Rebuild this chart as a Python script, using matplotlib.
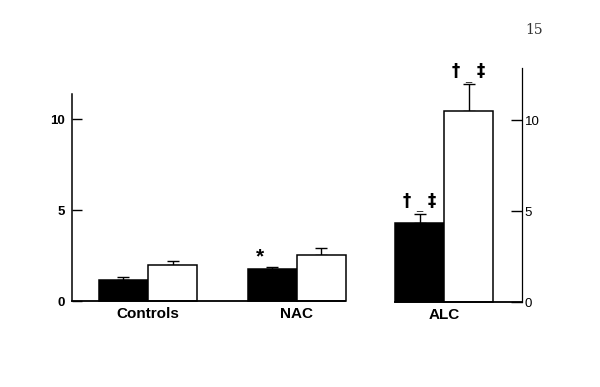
import matplotlib
matplotlib.use("Agg")
import matplotlib.pyplot as plt
import numpy as np

plt.rcParams['font.family'] = ['Liberation Sans', 'DejaVu Sans']

# Data
groups_left = ["Controls", "NAC"]
black_left = [1.16, 1.77]
black_left_err = [0.18, 0.13]
white_left = [1.97, 2.54]
white_left_err = [0.26, 0.40]

group_right = ["ALC"]
black_right = [4.37]
black_right_err = [0.48]
white_right = [10.49]
white_right_err = [1.49]

yticks = [0, 5, 10]

fig = plt.figure(figsize=(6.0, 3.87), dpi=100)
W, H = 600.0, 387.0

def fax(x0, x1, ytop, ybot):
    return fig.add_axes([x0 / W, (H - ybot) / H, (x1 - x0) / W, (ybot - ytop) / H])

bw = 0.33
lw = 1.1

def draw_bars(ax, xs, b, be, w, we):
    xs = np.asarray(xs, dtype=float)
    ax.bar(xs - bw / 2, b, bw, color='black', edgecolor='black', linewidth=lw, zorder=2, clip_on=False)
    ax.bar(xs + bw / 2, w, bw, color='white', edgecolor='black', linewidth=lw, zorder=2, clip_on=False)
    ax.errorbar(xs - bw / 2, b, yerr=[np.zeros(len(b)), be], fmt='none', ecolor='black',
                elinewidth=1.0, capsize=4, capthick=1.0, zorder=1)
    ax.errorbar(xs + bw / 2, w, yerr=[np.zeros(len(w)), we], fmt='none', ecolor='black',
                elinewidth=1.0, capsize=4, capthick=1.0, zorder=1)

# Left panel
axL = fax(72, 345, 94, 301)
xl = np.arange(len(groups_left))
draw_bars(axL, xl, black_left, black_left_err, white_left, white_left_err)
axL.set_xlim(-0.511, 1.325)
axL.set_ylim(0, 11.4)
for s in ['top', 'right']:
    axL.spines[s].set_visible(False)
axL.spines['left'].set_linewidth(1.1)
axL.spines['bottom'].set_linewidth(1.3)
axL.set_yticks(yticks)
axL.set_yticklabels([str(t) for t in yticks], fontsize=9.5, fontweight='bold')
axL.tick_params(axis='y', direction='in', length=7, width=1.0, pad=5)
axL.set_xticks(xl)
axL.set_xticklabels(groups_left, fontsize=11, fontweight='bold')
axL.tick_params(axis='x', length=0, pad=4)
axL.patch.set_alpha(0)

# star over NAC black bar
axL.annotate('*', (xl[1] - bw / 2, black_left[1] + black_left_err[1]),
             xytext=(-9, 0), textcoords='offset points', ha='center', va='bottom',
             fontsize=15, fontweight='bold')

# Right panel
axR = fax(395, 522, 68.3, 302.3)
xr = np.arange(len(group_right))
draw_bars(axR, xr, black_right, black_right_err, white_right, white_right_err)
axR.set_xlim(-0.33, 0.525)
axR.set_ylim(0, 12.85)
for s in ['top', 'left']:
    axR.spines[s].set_visible(False)
axR.spines['right'].set_linewidth(0.9)
axR.spines['bottom'].set_linewidth(1.3)
axR.yaxis.tick_right()
axR.set_yticks(yticks)
axR.set_yticklabels([str(t) for t in yticks], fontsize=9.5)
axR.tick_params(axis='y', direction='in', length=8, width=1.0, pad=2)
axR.set_xticks(xr)
axR.set_xticklabels(group_right, fontsize=11, fontweight='bold')
axR.tick_params(axis='x', length=0, pad=4)
axR.patch.set_alpha(0)

for xc, top in [(xr[0] - bw / 2, black_right[0] + black_right_err[0]),
                (xr[0] + bw / 2, white_right[0] + white_right_err[0])]:
    axR.annotate('†', (xc, top), xytext=(-9, 3), textcoords='offset points',
                 ha='center', va='bottom', fontsize=12, fontweight='bold',
                 family='DejaVu Sans')
    axR.annotate('‡', (xc, top), xytext=(9, 3), textcoords='offset points',
                 ha='center', va='bottom', fontsize=12, fontweight='bold',
                 family='DejaVu Sans')
    axR.annotate('_', (xc, top), xytext=(0, 1), textcoords='offset points',
                 ha='center', va='bottom', fontsize=8)

# page number
fig.text(534 / W, 1 - 30 / H, '15', fontsize=10, family='DejaVu Serif',
         ha='center', va='center', color='#333333')

fig.savefig('out.png', dpi=100)
